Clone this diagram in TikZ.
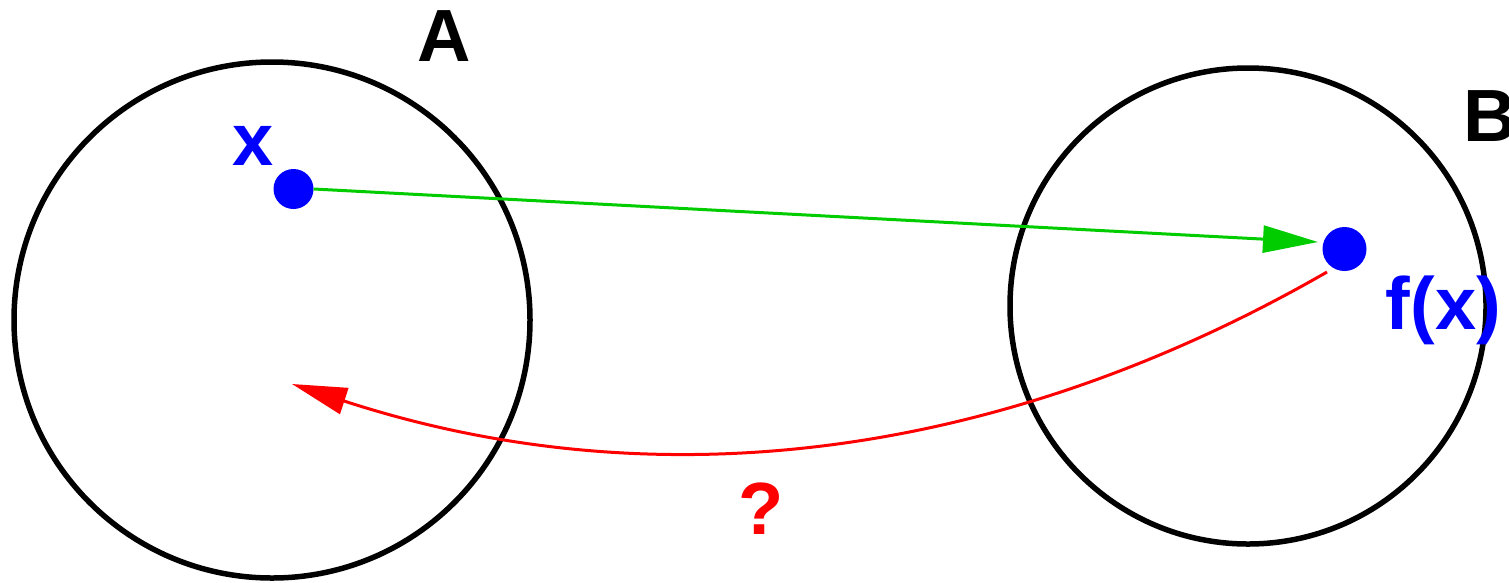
\documentclass[tikz,border=0pt]{standalone}
\usepackage{fontspec}
\setmainfont{Liberation Sans}
\usetikzlibrary{arrows.meta}
\definecolor{pblue}{RGB}{0,0,255}
\definecolor{pgreen}{RGB}{0,204,0}
\definecolor{pred}{RGB}{255,0,0}
\tikzset{
  setcircle/.style={draw=black, line width=5.5pt},
  dotnode/.style={circle, fill=pblue, draw=none, inner sep=0pt},
  lbl/.style={inner sep=0pt, font=\fontsize{74}{74}\selectfont\bfseries},
  mapto/.style={draw=pgreen, line width=3pt, -{Triangle[length=55pt,width=27pt]}},
  inverse/.style={draw=pred, line width=3pt, -{Triangle[length=55pt,width=27pt]}},
}
\begin{document}
\begin{tikzpicture}[x=1pt,y=-1pt]
\useasboundingbox (0,0) rectangle (1509,582);
\node[setcircle, circle, minimum size=516pt, inner sep=0pt] (A) at (272,320) {};
\node[setcircle, circle, minimum size=476pt, inner sep=0pt] (B) at (1248,306) {};
\node[dotnode, minimum size=40pt] (xdot) at (293.5,189) {};
\node[dotnode, minimum size=44pt] (fxdot) at (1344.5,249) {};
\node[lbl, anchor=base] (Alabel) at (444.5,61) {A};
\node[lbl, anchor=base west] (Blabel) at (1463,141) {B};
\node[lbl, anchor=base, text=pblue] (xlabel) at (253.5,165) {x};
\node[lbl, anchor=base, text=pblue] (fxlabel) at (1443.5,329) {f(x)};
\node[lbl, anchor=base, text=pred] (qlabel) at (761,534) {?};
\coordinate (gend) at (1318,242);
\coordinate (rstart) at (1327,272);
\coordinate (rend) at (292,384);
\draw[mapto] (xdot.east) -- (gend);
\draw[inverse] (rstart) .. controls (994.3,463.3) and (649.3,500.7) .. (rend);
\end{tikzpicture}
\end{document}
